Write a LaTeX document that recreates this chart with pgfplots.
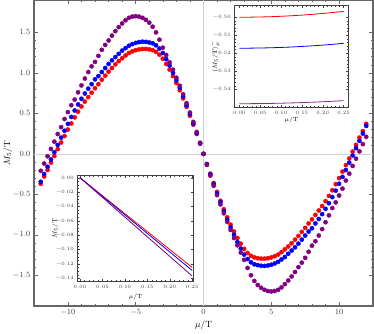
\documentclass[border=0pt]{standalone}
\usepackage{pgfplots}
\pgfplotsset{compat=1.18}
\usepackage{pgfplotstable}

\definecolor{mred}{rgb}{1,0,0}
\definecolor{mblue}{rgb}{0,0,1}
\definecolor{mpurple}{rgb}{0.5,0,0.5}
\definecolor{framec}{gray}{0.4}
\definecolor{tickc}{gray}{0.25}

% mu/T, red, blue, purple
\pgfplotstableread{
mu r b p
-12.00 -0.370 -0.345 -0.210
-11.75 -0.280 -0.250 -0.120
-11.50 -0.200 -0.160 -0.030
-11.25 -0.110 -0.070 0.060
-11.00 -0.027 0.020 0.150
-10.75 0.058 0.110 0.245
-10.50 0.140 0.200 0.330
-10.25 0.220 0.285 0.430
-10.00 0.300 0.370 0.515
-9.75 0.375 0.455 0.600
-9.50 0.450 0.535 0.670
-9.25 0.520 0.610 0.760
-9.00 0.585 0.680 0.845
-8.75 0.645 0.745 0.930
-8.50 0.700 0.805 1.010
-8.25 0.755 0.860 1.080
-8.00 0.810 0.920 1.135
-7.75 0.860 0.960 1.210
-7.50 0.915 1.010 1.285
-7.25 0.965 1.060 1.345
-7.00 1.015 1.110 1.400
-6.75 1.060 1.155 1.460
-6.50 1.105 1.195 1.515
-6.25 1.145 1.235 1.565
-6.00 1.180 1.275 1.610
-5.75 1.215 1.305 1.650
-5.50 1.245 1.335 1.680
-5.25 1.265 1.355 1.695
-5.00 1.280 1.370 1.700
-4.75 1.290 1.380 1.695
-4.50 1.295 1.385 1.680
-4.25 1.295 1.383 1.655
-4.00 1.290 1.375 1.620
-3.75 1.280 1.365 1.570
-3.50 1.260 1.340 1.500
-3.25 1.225 1.300 1.410
-3.00 1.175 1.245 1.310
-2.75 1.110 1.170 1.220
-2.50 1.040 1.090 1.130
-2.25 0.960 1.000 1.040
-2.00 0.875 0.910 0.940
-1.75 0.785 0.815 0.840
-1.50 0.685 0.710 0.735
-1.25 0.580 0.600 0.625
-1.00 0.470 0.490 0.510
-0.75 0.360 0.375 0.395
-0.50 0.245 0.255 0.270
-0.25 0.125 0.129 0.137
0.00 0.000 0.000 0.000
0.25 -0.125 -0.129 -0.137
0.50 -0.245 -0.255 -0.270
0.75 -0.360 -0.375 -0.395
1.00 -0.470 -0.490 -0.510
1.25 -0.580 -0.600 -0.625
1.50 -0.685 -0.710 -0.735
1.75 -0.785 -0.815 -0.840
2.00 -0.875 -0.910 -0.940
2.25 -0.960 -1.000 -1.040
2.50 -1.040 -1.090 -1.130
2.75 -1.110 -1.170 -1.220
3.00 -1.175 -1.245 -1.310
3.25 -1.225 -1.300 -1.410
3.50 -1.260 -1.340 -1.500
3.75 -1.280 -1.365 -1.570
4.00 -1.290 -1.375 -1.620
4.25 -1.295 -1.383 -1.655
4.50 -1.295 -1.385 -1.680
4.75 -1.290 -1.380 -1.695
5.00 -1.280 -1.370 -1.700
5.25 -1.265 -1.355 -1.695
5.50 -1.245 -1.335 -1.680
5.75 -1.215 -1.305 -1.650
6.00 -1.180 -1.275 -1.610
6.25 -1.145 -1.235 -1.565
6.50 -1.105 -1.195 -1.515
6.75 -1.060 -1.155 -1.460
7.00 -1.015 -1.110 -1.400
7.25 -0.965 -1.060 -1.345
7.50 -0.915 -1.010 -1.285
7.75 -0.860 -0.960 -1.210
8.00 -0.810 -0.920 -1.135
8.25 -0.755 -0.860 -1.080
8.50 -0.700 -0.805 -1.010
8.75 -0.645 -0.745 -0.930
9.00 -0.585 -0.680 -0.845
9.25 -0.520 -0.610 -0.760
9.50 -0.450 -0.535 -0.670
9.75 -0.375 -0.455 -0.600
10.00 -0.300 -0.370 -0.515
10.25 -0.220 -0.285 -0.430
10.50 -0.140 -0.200 -0.330
10.75 -0.058 -0.110 -0.245
11.00 0.027 -0.020 -0.150
11.25 0.110 0.070 -0.060
11.50 0.200 0.160 0.030
11.75 0.280 0.250 0.120
12.00 0.370 0.345 0.210
}\mainData

% small mu/T: <M5/T>
\pgfplotstableread{
mu r b p
0.000 -0.50000 -0.51720 -0.54800
0.025 -0.49997 -0.51717 -0.54798
0.050 -0.49987 -0.51709 -0.54793
0.075 -0.49971 -0.51696 -0.54785
0.100 -0.49948 -0.51677 -0.54773
0.125 -0.49919 -0.51653 -0.54758
0.150 -0.49883 -0.51623 -0.54739
0.175 -0.49841 -0.51588 -0.54717
0.200 -0.49792 -0.51548 -0.54692
0.225 -0.49737 -0.51502 -0.54663
0.250 -0.49675 -0.51451 -0.54631
}\avgData

% small mu/T: M5/T
\pgfplotstableread{
mu r b p
0.000 0.0000 0.0000 0.0000
0.050 -0.0250 -0.0259 -0.0274
0.100 -0.0500 -0.0517 -0.0548
0.150 -0.0749 -0.0775 -0.0821
0.200 -0.0999 -0.1033 -0.1095
0.250 -0.1247 -0.1291 -0.1368
}\smallData

\pgfplotsset{
  mframe/.style={
    scale only axis,
    tick align=inside,
    axis line style={framec, line width=1.1pt},
    tick style={framec, line width=0.45pt},
    ticklabel style={text=tickc},
  },
  inframe/.style={
    scale only axis,
    tick align=inside,
    axis background/.style={fill=white},
    axis line style={black!75, line width=1pt},
    tick style={black!75, line width=0.35pt},
    major tick length=2.5pt, minor tick length=1.4pt,
    ticklabel style={text=tickc, font=\fontsize{4.5}{5}\selectfont},
    label style={font=\fontsize{6.5}{7}\selectfont},
    xticklabel style={/pgf/number format/.cd, fixed, fixed zerofill, precision=2},
    yticklabel style={/pgf/number format/.cd, fixed, fixed zerofill, precision=2},
    xtick={0,0.05,0.10,0.15,0.20,0.25},
    minor x tick num=4,
  },
}

\begin{document}
\begin{tikzpicture}
\begin{axis}[mframe, name=main,
  width=339pt, height=306pt,
  xmin=-12.5, xmax=12.5, ymin=-1.88, ymax=1.9,
  xtick={-10,-5,0,5,10}, minor x tick num=4,
  ytick={-1.5,-1,-0.5,0,0.5,1,1.5}, minor y tick num=4,
  major tick length=4pt, minor tick length=2pt,
  yticklabel style={/pgf/number format/.cd, fixed, fixed zerofill, precision=1},
  ticklabel style={font=\footnotesize},
  xlabel={$\mu/\mathrm{T}$}, ylabel={$M_5/\mathrm{T}$},
  label style={font=\small},
  xlabel style={at={(rel axis cs:0.5,-0.062)}, anchor=center},
  ylabel style={at={(rel axis cs:-0.0767,0.5)}, anchor=center},
]
\draw[gray!35, line width=0.5pt] (axis cs:0,-1.88) -- (axis cs:0,1.9);
\draw[gray!35, line width=0.5pt] (axis cs:-12.5,0) -- (axis cs:12.5,0);
\addplot[only marks, mark=*, mark size=2.1pt, mred, mark options={draw=none, fill=mred}] table[x=mu, y=r] {\mainData};
\addplot[only marks, mark=*, mark size=2.1pt, mblue, mark options={draw=none, fill=mblue}] table[x=mu, y=b] {\mainData};
\addplot[only marks, mark=*, mark size=2.1pt, mpurple, mark options={draw=none, fill=mpurple}] table[x=mu, y=p] {\mainData};
\coordinate (inA) at (rel axis cs:0.5909,0.9814);
\coordinate (inB) at (rel axis cs:0.1277,0.4258);
\end{axis}

\begin{axis}[inframe, at={(inA)}, anchor=north west,
  width=114pt, height=101.6pt,
  xmin=-0.012, xmax=0.2615, ymin=-0.5500, ymax=-0.4936,
  ytick={-0.54,-0.53,-0.52,-0.51,-0.50}, minor y tick num=4,
  xlabel={$\mu/\mathrm{T}$}, ylabel={$\langle M_5/\mathrm{T}\rangle^{-}_{\mu}$},
  xlabel style={at={(rel axis cs:0.5,-0.125)}, anchor=center},
  ylabel style={at={(rel axis cs:-0.169,0.5)}, anchor=center},
]
\addplot[mred, line width=0.8pt] table[x=mu, y=r] {\avgData};
\addplot[mblue, line width=0.8pt] table[x=mu, y=b] {\avgData};
\addplot[mpurple!85, line width=0.8pt] table[x=mu, y=p] {\avgData};
\end{axis}

\begin{axis}[inframe, at={(inB)}, anchor=north west,
  width=116.7pt, height=106pt,
  xmin=-0.006, xmax=0.254, ymin=-0.1447, ymax=0.0028,
  ytick={-0.14,-0.12,-0.10,-0.08,-0.06,-0.04,-0.02,0}, minor y tick num=3,
  xlabel={$\mu/\mathrm{T}$}, ylabel={$M_5/\mathrm{T}$},
  xlabel style={at={(rel axis cs:0.5,-0.1415)}, anchor=center},
  ylabel style={at={(rel axis cs:-0.191,0.5)}, anchor=center},
]
\addplot[mred, line width=0.8pt] table[x=mu, y=r] {\smallData};
\addplot[mblue, line width=0.8pt] table[x=mu, y=b] {\smallData};
\addplot[mpurple, line width=0.8pt] table[x=mu, y=p] {\smallData};
\end{axis}

\pgfresetboundingbox
\path[use as bounding box] ([xshift=-34pt, yshift=-27pt]main.south west) rectangle ([xshift=1pt]main.north east);
\end{tikzpicture}
\end{document}
